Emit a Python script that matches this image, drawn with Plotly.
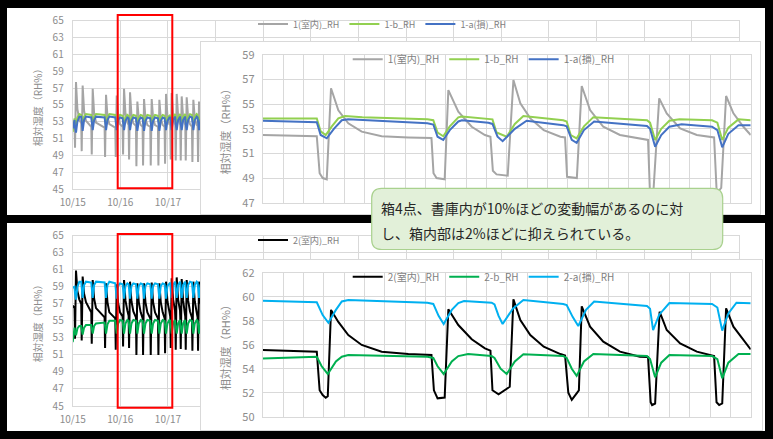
import plotly.graph_objects as go

W, H = 773, 439
FONT = "Noto Sans CJK JP"
AXIS_GREY = "#8c8c8c"
GRID = "#d9d9d9"

# ---------------- long-term view (days since 10/15 00:00) ----------------
DAY_TICKS = list(range(15))
# only the first three dates are printed; the rest sit under the detail panel
DAY_LABELS = ["10/15", "10/16", "10/17"] + [""] * 12

BIG_T = [
    0.0,
    0.039, 0.049, 0.069, 0.099, 0.139,
    0.179, 0.189, 0.209, 0.239, 0.279,
    0.39, 0.40, 0.42, 0.45, 0.49,
    0.67, 0.68, 0.70, 0.73, 0.77,
    0.894, 0.904, 0.924, 0.954, 0.994,
    1.048, 1.058, 1.078, 1.108, 1.148,
    1.174, 1.184, 1.204, 1.234, 1.274,
    1.328, 1.338, 1.358, 1.388, 1.428,
    1.468, 1.478, 1.498, 1.528, 1.568,
    1.629, 1.639, 1.659, 1.689, 1.729,
    1.79, 1.80, 1.82, 1.85, 1.89,
    1.93, 1.94, 1.96, 1.99, 2.03,
    2.049, 2.059, 2.079, 2.109, 2.149,
    2.154, 2.164, 2.184, 2.214, 2.254,
    2.259, 2.269, 2.289, 2.319, 2.359,
    2.364, 2.374, 2.394, 2.424, 2.464,
    2.504, 2.514, 2.534, 2.564, 2.604,
    2.623, 2.633, 2.653, 2.683, 2.723,
    2.75,
]

BOX1_ROOM = [
    52.5,
    52.5, 49.9, 57.7, 54.5, 53.2,
    52.8, 49.5, 57.3, 54.3, 53.1,
    52.4, 49.1, 56.9, 54.0, 52.9,
    52.3, 48.8, 56.2, 53.6, 52.7,
    52.3, 48.8, 56.1, 53.6, 52.7,
    52.4, 49.1, 56.9, 54.0, 52.9,
    52.6, 48.5, 56.5, 53.8, 52.8,
    52.5, 47.7, 55.4, 53.3, 52.6,
    52.4, 47.8, 55.7, 53.4, 52.6,
    52.4, 47.8, 55.7, 53.4, 52.6,
    52.4, 47.8, 55.6, 53.4, 52.6,
    52.4, 48.0, 56.3, 53.7, 52.7,
    52.6, 48.5, 56.4, 53.7, 52.8,
    52.6, 48.4, 56.3, 53.7, 52.8,
    52.6, 48.4, 56.0, 53.5, 52.7,
    52.6, 48.4, 55.9, 53.5, 52.7,
    52.4, 48.2, 55.6, 53.4, 52.6,
    52.5, 48.2, 55.4, 53.3, 52.6,
    52.4,
]
BOX1_B = [
    51.8,
    53.4, 53.0, 52.6, 53.5, 53.9,
    53.8, 53.2, 52.6, 53.6, 53.9,
    53.8, 53.2, 52.6, 53.6, 53.9,
    53.8, 53.2, 52.6, 53.6, 53.9,
    53.8, 53.2, 52.6, 53.6, 53.8,
    53.7, 53.2, 52.6, 53.5, 53.8,
    53.7, 53.2, 52.6, 53.5, 53.8,
    53.7, 53.1, 52.5, 53.5, 53.8,
    53.7, 53.1, 52.5, 53.5, 53.8,
    53.7, 53.1, 52.5, 53.5, 53.8,
    53.7, 53.1, 52.5, 53.5, 53.8,
    53.7, 53.2, 52.6, 53.5, 53.8,
    53.8, 53.2, 52.6, 53.6, 53.9,
    53.8, 53.2, 52.6, 53.6, 53.9,
    53.8, 53.2, 52.6, 53.6, 53.9,
    53.8, 53.2, 52.6, 53.6, 53.9,
    53.8, 53.2, 52.6, 53.6, 53.9,
    53.8, 53.2, 52.6, 53.6, 53.9,
    53.8,
]
BOX1_A = [
    52.2,
    53.2, 52.3, 51.7, 53.0, 53.6,
    53.6, 52.6, 51.9, 53.2, 53.6,
    53.5, 52.7, 52.0, 53.2, 53.6,
    53.5, 52.7, 52.0, 53.2, 53.6,
    53.5, 52.7, 52.0, 53.2, 53.5,
    53.4, 52.7, 52.0, 53.1, 53.5,
    53.4, 52.7, 52.0, 53.1, 53.5,
    53.4, 52.6, 51.9, 53.1, 53.5,
    53.4, 52.6, 51.9, 53.1, 53.5,
    53.4, 52.6, 51.9, 53.1, 53.5,
    53.4, 52.6, 51.9, 53.1, 53.5,
    53.4, 52.7, 52.0, 53.1, 53.5,
    53.5, 52.7, 52.0, 53.2, 53.6,
    53.5, 52.7, 52.0, 53.2, 53.6,
    53.5, 52.7, 52.0, 53.2, 53.6,
    53.5, 52.7, 52.0, 53.2, 53.6,
    53.5, 52.7, 52.0, 53.2, 53.6,
    53.5, 52.7, 52.0, 53.2, 53.6,
    53.5,
]

BOX2_ROOM = [
    56.8,
    56.5, 52.9, 60.9, 58.5, 57.5,
    57.0, 52.7, 60.2, 58.2, 57.2,
    56.0, 52.3, 59.8, 57.6, 56.5,
    55.4, 51.8, 59.4, 57.2, 56.0,
    55.3, 51.6, 59.3, 57.1, 56.0,
    55.5, 52.0, 59.8, 57.4, 56.2,
    55.6, 51.8, 59.6, 57.3, 56.1,
    55.4, 51.0, 59.4, 57.2, 56.0,
    55.3, 51.0, 59.4, 57.2, 56.0,
    55.3, 51.0, 59.5, 57.2, 56.0,
    55.3, 51.0, 59.4, 57.2, 56.0,
    55.3, 51.2, 59.6, 57.3, 56.1,
    55.5, 51.8, 60.0, 57.5, 56.2,
    55.5, 51.6, 60.1, 57.5, 56.2,
    55.5, 51.7, 59.9, 57.4, 56.1,
    55.5, 51.6, 59.8, 57.4, 56.1,
    55.4, 51.5, 59.6, 57.3, 56.0,
    55.4, 51.5, 59.6, 57.3, 56.0,
    55.7,
]
BOX2_B = [
    52.5,
    54.2, 53.8, 53.3, 54.1, 54.4,
    54.4, 53.9, 53.4, 54.2, 54.5,
    54.5, 54.0, 53.5, 54.4, 54.7,
    54.8, 54.2, 53.5, 54.6, 55.0,
    55.0, 54.3, 53.5, 54.7, 55.1,
    55.0, 54.3, 53.5, 54.7, 55.1,
    55.0, 54.3, 53.5, 54.7, 55.1,
    55.0, 54.3, 53.5, 54.7, 55.1,
    55.0, 54.3, 53.5, 54.7, 55.1,
    55.0, 54.3, 53.5, 54.7, 55.1,
    55.0, 54.3, 53.5, 54.7, 55.1,
    55.0, 54.3, 53.5, 54.7, 55.1,
    55.0, 54.3, 53.5, 54.7, 55.1,
    55.0, 54.3, 53.5, 54.7, 55.1,
    55.0, 54.3, 53.5, 54.7, 55.1,
    55.0, 54.3, 53.5, 54.7, 55.1,
    55.0, 54.3, 53.5, 54.7, 55.1,
    55.0, 54.3, 53.5, 54.7, 55.1,
    55.1,
]
BOX2_A = [
    58.9,
    59.0, 58.2, 57.5, 59.0, 59.6,
    59.6, 58.6, 57.7, 59.2, 59.6,
    59.5, 58.6, 57.7, 59.2, 59.6,
    59.5, 58.6, 57.7, 59.2, 59.6,
    59.4, 58.5, 57.6, 59.1, 59.4,
    59.3, 58.5, 57.6, 59.1, 59.4,
    59.3, 58.5, 57.6, 59.1, 59.4,
    59.3, 58.5, 57.6, 59.1, 59.4,
    59.3, 58.5, 57.6, 59.1, 59.4,
    59.3, 58.5, 57.6, 59.1, 59.4,
    59.3, 58.5, 57.6, 59.1, 59.4,
    59.3, 58.5, 57.6, 59.1, 59.4,
    59.5, 58.6, 57.7, 59.2, 59.6,
    59.5, 58.6, 57.7, 59.2, 59.6,
    59.5, 58.6, 57.7, 59.2, 59.6,
    59.5, 58.6, 57.7, 59.2, 59.6,
    59.5, 58.6, 57.7, 59.2, 59.6,
    59.5, 58.6, 57.7, 59.2, 59.6,
    59.5,
]

# ---------------- one-day detail (hours) ----------------
D1_ROOM_H = [0.0, 2.66, 2.80, 2.95, 3.15, 3.36, 3.72, 4.21, 4.87, 5.85, 7.16, 8.30,
             8.40, 8.55, 8.95, 9.13, 9.62, 10.28, 10.93, 11.20, 11.32, 11.50, 12.05,
             12.33, 12.67, 13.16, 13.82, 14.64, 14.87, 14.97, 15.45, 15.69, 16.10,
             16.75, 17.57, 18.55, 18.95, 19.05, 19.20, 19.50, 19.87, 20.53, 21.35,
             22.20, 22.32, 22.45, 22.55, 22.79, 23.15, 23.64, 24.0]
D1_ROOM_V = [52.5, 52.4, 49.4, 49.0, 48.9, 56.3, 54.5, 53.45, 52.77, 52.4, 52.3, 52.25,
             49.4, 49.0, 48.9, 56.15, 54.4, 53.17, 52.5, 52.35, 49.6, 49.3, 49.2,
             56.97, 55.07, 53.85, 52.9, 52.36, 52.3, 49.1, 49.0, 56.48, 54.53,
             53.17, 52.5, 52.23, 52.1, 47.6, 47.5, 55.48, 54.26, 53.04, 52.5,
             52.3, 48.1, 48.0, 48.2, 55.67, 54.26, 53.17, 52.5]

D1_B_H = [0, 2.66, 2.85, 3.1, 3.4, 3.72, 4.05, 4.9, 8.1, 8.39, 8.6, 8.88, 9.2, 9.62,
          9.8, 11.1, 11.3, 11.5, 12.0, 12.4, 12.82, 14.78, 14.95, 15.15, 15.44, 15.8,
          16.26, 18.9, 19.05, 19.3, 19.6, 20.0, 20.5, 22.1, 22.36, 22.6, 22.9, 23.4, 24.0]
D1_B_V = [53.85, 53.85, 52.8, 52.5, 53.2, 53.85, 54.04, 53.95, 53.77, 53.7, 52.7, 52.4,
          53.2, 53.93, 54.0, 53.85, 53.77, 52.7, 52.36, 53.4, 54.04, 53.7, 53.6, 52.5,
          52.23, 53.2, 53.95, 53.7, 53.5, 52.1, 53.0, 53.66, 53.77, 53.7, 53.5, 52.1,
          53.1, 53.77, 53.7]

D1_A_H = [0, 2.66, 2.85, 3.15, 3.5, 3.89, 4.2, 8.1, 8.39, 8.6, 8.88, 9.2, 9.62, 9.8,
          11.1, 11.3, 11.55, 11.8, 12.4, 12.98, 14.78, 14.95, 15.2, 15.44, 15.8, 16.3,
          18.9, 19.05, 19.3, 19.6, 20.0, 20.6, 22.1, 22.36, 22.6, 22.9, 23.4, 24.0]
D1_A_V = [53.66, 53.53, 52.5, 52.23, 53.0, 53.7, 53.77, 53.45, 53.35, 52.36, 52.1, 52.9,
          53.6, 53.7, 53.5, 53.4, 52.36, 52.0, 53.0, 53.66, 53.3, 53.2, 52.1, 51.87,
          52.9, 53.6, 53.23, 53.0, 51.55, 52.5, 53.17, 53.37, 53.17, 52.9, 51.5, 52.6,
          53.3, 53.3]

D2_ROOM_H = [0, 2.66, 2.80, 2.95, 3.1, 3.2, 3.36, 3.72, 4.21, 4.87, 5.85, 7.16, 8.3,
             8.42, 8.6, 8.95, 9.13, 9.62, 10.28, 10.93, 11.2, 11.3, 11.6, 12.0, 12.15,
             12.33, 12.67, 13.16, 13.82, 14.64, 14.87, 15.03, 15.2, 15.44, 15.55, 15.69,
             16.1, 16.75, 17.57, 18.55, 18.95, 19.08, 19.15, 19.3, 19.52, 19.87, 20.53,
             21.35, 22.2, 22.32, 22.45, 22.6, 22.79, 23.15, 23.64, 24.0]
D2_ROOM_V = [55.56, 55.42, 52.2, 51.8, 51.58, 51.7, 58.9, 57.9, 56.8, 55.98, 55.42,
             55.22, 55.14, 52.2, 51.53, 51.6, 58.95, 57.64, 56.45, 55.7, 55.5, 52.2,
             51.86, 52.3, 52.5, 59.78, 58.06, 56.8, 55.83, 55.22, 55.1, 52.0, 51.4,
             51.95, 52.2, 59.2, 57.5, 56.25, 55.42, 55.0, 54.97, 51.2, 50.97, 51.1,
             58.75, 57.22, 56.1, 55.42, 55.05, 51.2, 50.97, 51.1, 59.03, 57.5, 56.4, 55.6]

D2_B_H = [0, 2.66, 2.9, 3.2, 3.6, 3.89, 4.21, 8.1, 8.39, 8.6, 8.9, 9.3, 9.62, 10.1,
          11.26, 11.4, 11.7, 12.0, 12.4, 12.82, 14.78, 14.95, 15.2, 15.44, 15.8, 16.26,
          18.9, 19.05, 19.3, 19.6, 20.0, 22.1, 22.36, 22.6, 22.9, 23.4, 24.0]
D2_B_V = [54.86, 55.0, 54.2, 53.56, 54.6, 55.0, 55.14, 55.0, 54.9, 54.2, 53.56, 54.6,
          55.05, 55.22, 55.05, 54.9, 54.0, 53.56, 54.6, 55.2, 55.05, 54.9, 54.0, 53.4,
          54.6, 55.22, 55.05, 54.8, 53.28, 54.5, 55.14, 55.05, 54.8, 53.2, 54.5, 55.22,
          55.22]

D2_A_H = [0, 2.66, 2.95, 3.23, 3.6, 3.89, 4.21, 8.1, 8.39, 8.65, 8.9, 9.3, 9.62, 9.9,
          11.26, 11.4, 11.6, 11.8, 12.3, 12.82, 14.78, 14.95, 15.25, 15.52, 15.9, 16.3,
          18.9, 19.05, 19.2, 19.5, 20.0, 22.1, 22.36, 22.6, 22.9, 23.3, 24.0]
D2_A_V = [59.67, 59.53, 58.47, 57.83, 58.9, 59.6, 59.72, 59.5, 59.4, 58.4, 57.72, 58.9,
          59.47, 59.64, 59.5, 59.36, 58.4, 57.72, 59.0, 59.72, 59.39, 59.3, 58.3, 57.56,
          58.9, 59.6, 59.22, 59.0, 57.22, 58.5, 59.47, 59.39, 59.1, 57.17, 58.6, 59.5,
          59.45]

NAMES1 = ["1(室内)_RH", "1-b_RH", "1-a(損)_RH"]
NAMES2 = ["2(室内)_RH", "2-b_RH", "2-a(損)_RH"]
COLORS1 = ["#a5a5a5", "#92d050", "#4472c4"]
COLORS2 = ["#000000", "#00b050", "#00b0f0"]
Y_TITLE = "相対湿度（RH%）"
NOTE_LINES = ["箱4点、書庫内が10%ほどの変動幅があるのに対",
              "し、箱内部は2%ほどに抑えられている。"]


def fx(px):
    return px / W


def fy(py):
    return 1 - py / H


fig = go.Figure()


def add_lines(xs_list, ys_list, names, colors, ax, legend, show=(True, True, True)):
    for xs, ys, name, col, s in zip(xs_list, ys_list, names, colors, show):
        fig.add_trace(go.Scatter(
            x=xs, y=ys, name=name, mode="lines",
            line=dict(color=col, width=2),
            xaxis="x" + ax, yaxis="y" + ax,
            legend=legend, showlegend=s, hoverinfo="skip",
        ))


def add_blank(ax):
    fig.add_trace(go.Scatter(x=[None], y=[None], xaxis="x" + ax, yaxis="y" + ax,
                             showlegend=False, hoverinfo="skip"))


# subplot order: long view, panel cover, detail view (per box)
add_lines([BIG_T] * 3, [BOX1_ROOM, BOX1_B, BOX1_A], NAMES1, COLORS1, "", "legend")
add_blank("2")
add_lines([D1_ROOM_H, D1_B_H, D1_A_H], [D1_ROOM_V, D1_B_V, D1_A_V], NAMES1, COLORS1, "3", "legend2")
add_lines([BIG_T] * 3, [BOX2_ROOM, BOX2_B, BOX2_A], NAMES2, COLORS2, "4", "legend3",
          show=(True, False, False))
add_blank("5")
add_lines([D2_ROOM_H, D2_B_H, D2_A_H], [D2_ROOM_V, D2_B_V, D2_A_V], NAMES2, COLORS2, "6", "legend4")

tickfont_big = dict(family=FONT, size=10, color=AXIS_GREY)
tickfont_det = dict(family=FONT, size=11, color=AXIS_GREY)


def big_x(dom, anchor):
    return dict(domain=dom, anchor=anchor, range=[0, 14], tickvals=DAY_TICKS,
                ticktext=DAY_LABELS, showgrid=True, gridcolor=GRID, showline=True,
                linecolor=GRID, mirror=True, zeroline=False, ticks="",
                tickfont=tickfont_big, ticklabelstandoff=4, automargin=False)


def big_y(dom, anchor):
    return dict(domain=dom, anchor=anchor, range=[45, 65], tick0=45, dtick=2,
                showgrid=True, gridcolor=GRID, showline=True, linecolor=GRID,
                mirror=True, zeroline=False, ticks="", tickfont=tickfont_big,
                ticklabelstandoff=6, automargin=False,
                title=dict(text=Y_TITLE, font=dict(family=FONT, size=10, color=AXIS_GREY),
                           standoff=8))


def det_x(dom, anchor):
    return dict(domain=dom, anchor=anchor, range=[0, 24], dtick=1, tick0=0,
                showgrid=True, gridcolor=GRID, showline=True, linecolor=GRID,
                mirror=True, zeroline=False, ticks="", showticklabels=False,
                automargin=False)


def det_y(dom, anchor, rng):
    return dict(domain=dom, anchor=anchor, range=rng, tick0=rng[0], dtick=2,
                showgrid=True, gridcolor=GRID, showline=True, linecolor=GRID,
                mirror=True, zeroline=False, ticks="", tickfont=tickfont_det,
                ticklabelstandoff=5, automargin=False,
                title=dict(text=Y_TITLE, font=dict(family=FONT, size=11, color=AXIS_GREY),
                           standoff=9))


def cover_axis(dom, anchor):
    return dict(domain=dom, anchor=anchor, range=[0, 1], showgrid=False, zeroline=False,
                showticklabels=False, ticks="", showline=True, linecolor=GRID, mirror=True,
                automargin=False)


BIG_XD = [fx(72.7), fx(739.3)]
DET_XD = [fx(262.7), fx(750.7)]

layout = dict(
    width=W, height=H,
    margin=dict(l=0, r=0, t=0, b=0, pad=0, autoexpand=False),
    paper_bgcolor="#000000", plot_bgcolor="#ffffff",
    font=dict(family=FONT, color=AXIS_GREY),
    xaxis=big_x(BIG_XD, "y"),
    yaxis=big_y([fy(189), fy(20.7)], "x"),
    xaxis2=cover_axis([fx(201), fx(760)], "y2"),
    yaxis2=cover_axis([fy(214), fy(41.7)], "x2"),
    xaxis3=det_x(DET_XD, "y3"),
    yaxis3=det_y([fy(202.7), fy(55)], "x3", [47, 59]),
    xaxis4=big_x(BIG_XD, "y4"),
    yaxis4=big_y([fy(406), fy(235.7)], "x4"),
    xaxis5=cover_axis([fx(201), fx(761.7)], "y5"),
    yaxis5=cover_axis([fy(429.5), fy(260)], "x5"),
    xaxis6=det_x(DET_XD, "y6"),
    yaxis6=det_y([fy(416.7), fy(272.7)], "x6", [50, 62]),
    showlegend=True,
)

leg_common = dict(orientation="h", xanchor="left", yanchor="middle",
                  bgcolor="rgba(0,0,0,0)", traceorder="normal")
layout["legend"] = dict(leg_common, x=fx(253), y=fy(24),
                        font=dict(family=FONT, size=9, color="#7f7f7f"))
layout["legend2"] = dict(leg_common, x=fx(347.7), y=fy(59.3),
                         font=dict(family=FONT, size=10, color="#7f7f7f"))
layout["legend3"] = dict(leg_common, x=fx(253), y=fy(240),
                         font=dict(family=FONT, size=9, color="#7f7f7f"))
layout["legend4"] = dict(leg_common, x=fx(347.7), y=fy(276.7),
                         font=dict(family=FONT, size=10, color="#7f7f7f"))

shapes = []
# white slide panels
for y0, y1 in [(8, 215), (223, 431)]:
    shapes.append(dict(type="rect", xref="paper", yref="paper", layer="below",
                       x0=fx(7), x1=fx(765), y0=fy(y1), y1=fy(y0),
                       fillcolor="#ffffff", line=dict(width=0)))
# red frames marking the detailed day
for y0, y1 in [(15, 188.3), (234, 407.7)]:
    shapes.append(dict(type="rect", xref="paper", yref="paper", layer="above",
                       x0=fx(117.7), x1=fx(172.3), y0=fy(y1), y1=fy(y0),
                       fillcolor="rgba(0,0,0,0)", line=dict(color="#ff0000", width=2)))

# rounded callout box
x0, x1, y0, y1, r = 371.7, 722.7, 188.3, 249.5, 10


def P(px, py):
    return "%.5f,%.5f" % (fx(px), fy(py))


path = ("M" + P(x0 + r, y0) + " L" + P(x1 - r, y0) + " Q" + P(x1, y0) + " " + P(x1, y0 + r)
        + " L" + P(x1, y1 - r) + " Q" + P(x1, y1) + " " + P(x1 - r, y1)
        + " L" + P(x0 + r, y1) + " Q" + P(x0, y1) + " " + P(x0, y1 - r)
        + " L" + P(x0, y0 + r) + " Q" + P(x0, y0) + " " + P(x0 + r, y0) + " Z")
shapes.append(dict(type="path", xref="paper", yref="paper", layer="above", path=path,
                   fillcolor="#e2f0d9", line=dict(color="#a9d18e", width=1.2)))
layout["shapes"] = shapes

layout["annotations"] = [
    dict(text=NOTE_LINES[0], xref="paper", yref="paper", x=fx(379), y=fy(208.3),
         xanchor="left", yanchor="middle", showarrow=False,
         font=dict(family=FONT, size=14, color="#262626")),
    dict(text=NOTE_LINES[1], xref="paper", yref="paper", x=fx(379), y=fy(233.3),
         xanchor="left", yanchor="middle", showarrow=False,
         font=dict(family=FONT, size=14, color="#262626")),
]

fig.update_layout(**layout)
# keep the page flush with the window edges
fig.write_html("out.html",
               post_script="document.body.style.margin='0';"
                           "document.body.style.overflow='hidden';")
